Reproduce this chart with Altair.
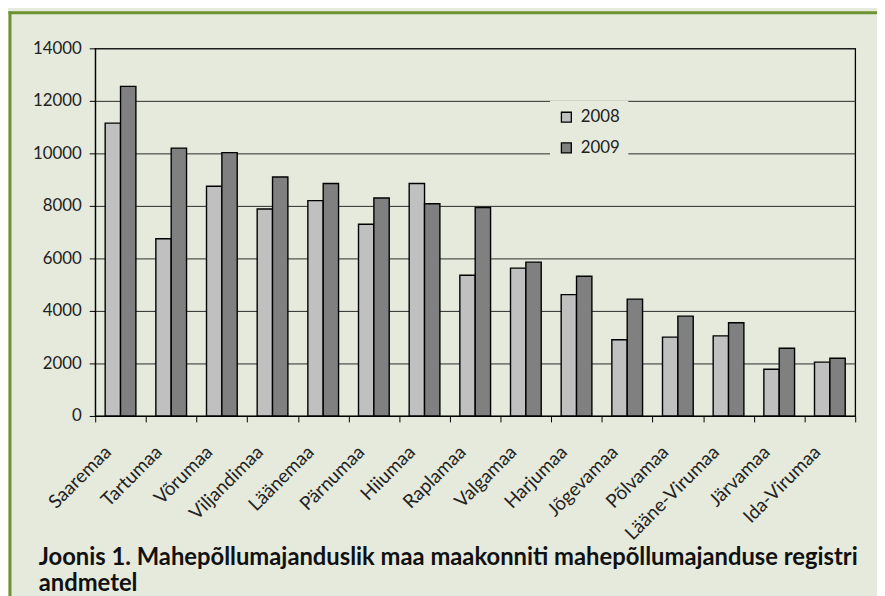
import altair as alt
import pandas as pd

categories = ["Saaremaa", "Tartumaa", "Võrumaa", "Viljandimaa", "Läänemaa", "Pärnumaa",
              "Hiiumaa", "Raplamaa", "Valgamaa", "Harjumaa", "Jõgevamaa", "Põlvamaa",
              "Lääne-Virumaa", "Järvamaa", "Ida-Virumaa"]
v2008 = [11150, 6750, 8750, 7880, 8200, 7300, 8850, 5360, 5630, 4620, 2900, 3000, 3050, 1780, 2050]
v2009 = [12550, 10200, 10030, 9100, 8850, 8300, 8080, 7940, 5860, 5320, 4450, 3800, 3550, 2580, 2200]
years = ["2008", "2009"]
y_ticks = [0, 2000, 4000, 6000, 8000, 10000, 12000, 14000]
title_lines = ["Joonis 1. Mahepõllumajanduslik maa maakonniti mahepõllumajanduse registri",
               "andmetel"]

rows = []
for c, a, b in zip(categories, v2008, v2009):
    rows.append({"maakond": c, "aasta": years[0], "ha": a})
    rows.append({"maakond": c, "aasta": years[1], "ha": b})
df = pd.DataFrame(rows)

BG = "#e5eadc"
GREEN = "#6d9330"
FONT = "Lato"

bars = alt.Chart(df).mark_bar(stroke="black", strokeWidth=1.4).encode(
    x=alt.X("maakond:N", sort=categories, title=None,
            scale=alt.Scale(paddingInner=0, paddingOuter=0),
            axis=alt.Axis(labelAngle=-45, labelAlign="right", labelBaseline="middle",
                          labelOffset=-13, labelPadding=27, tickBand="extent",
                          tickSize=6, tickColor="black", domainColor="black",
                          labelFont=FONT, labelFontSize=19, labelColor="#222",
                          grid=False)),
    xOffset=alt.XOffset("aasta:N", scale=alt.Scale(paddingOuter=0.65, paddingInner=0)),
    y=alt.Y("ha:Q", title=None,
            scale=alt.Scale(domain=[0, 14000], nice=False),
            axis=alt.Axis(values=y_ticks, format="d", tickSize=6, tickColor="black",
                          domainColor="black",
                          labelFont=FONT, labelFontSize=17, labelColor="#222", labelPadding=8,
                          grid=True, gridColor="#2a2a2a", gridWidth=1)),
    color=alt.Color("aasta:N", title=None,
                    scale=alt.Scale(domain=years, range=["#c0c0c0", "#808080"]),
                    legend=alt.Legend(orient="none", legendX=459, legendY=53,
                                      fillColor=BG, padding=8, symbolType="square",
                                      symbolSize=100, symbolStrokeColor="black",
                                      symbolStrokeWidth=1.3, labelFont=FONT,
                                      labelFontSize=17, labelColor="#222",
                                      labelOffset=6, rowPadding=13)),
)

one = pd.DataFrame({"k": [0]})
left_border = alt.Chart(one).mark_rule(color=GREEN, strokeWidth=3).encode(
    x=alt.value(-86), y=alt.value(-37.5), y2=alt.value(560))
top_border = alt.Chart(one).mark_rule(color=GREEN, strokeWidth=3).encode(
    y=alt.value(-36), x=alt.value(-87.5), x2=alt.value(800))

chart = alt.layer(bars, left_border, top_border).properties(
    width=767, height=371,
    autosize=alt.AutoSizeParams(type="none"),
    padding={"left": 88, "top": 38, "right": 22, "bottom": 179},
    background=BG,
    title=alt.TitleParams(title_lines, orient="bottom", anchor="start", frame="group",
                          font=FONT, fontSize=24, fontWeight="bold", color="#111",
                          dx=-57, offset=-59, lineHeight=26),
).configure_view(stroke="black", strokeWidth=1.3)

chart.save("out.html", embed_options={"renderer": "svg", "actions": False})
